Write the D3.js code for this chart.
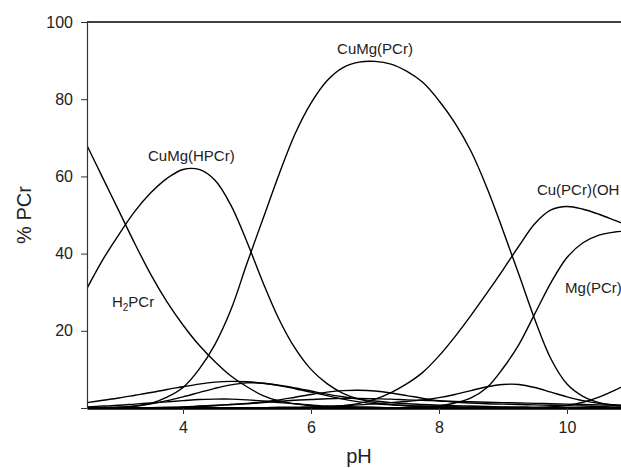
<!doctype html>
<html>
<head>
<meta charset="utf-8">
<script src="https://d3js.org/d3.v7.min.js"></script>
<style>
  body { margin: 0; background: #fff; }
  svg { display: block; font-family: "Liberation Sans", Arial, sans-serif; }
</style>
</head>
<body>
<svg width="621" height="468"></svg>
<script>
// pH grid (0.25 steps) and % PCr
var pH = [2.5, 2.75, 3, 3.25, 3.5, 3.75, 4, 4.25, 4.5, 4.75,
          5, 5.25, 5.5, 5.75, 6, 6.25, 6.5, 6.75, 7, 7.25,
          7.5, 7.75, 8, 8.25, 8.5, 8.75, 9, 9.25, 9.5, 9.75,
          10, 10.25, 10.5, 10.75, 11];

var H2PCr = [68, 59.5, 51, 42.5, 34.5, 27.5, 21.5, 16.3, 12, 8.3,
             5.5, 3.2, 1.8, 1.1, 0.6, 0.3, 0.2, 0.1, 0.1, 0,
             0, 0, 0, 0, 0, 0, 0, 0, 0, 0, 0, 0, 0, 0, 0];
var CuMgHPCr = [31, 38.5, 45, 51, 55.8, 59.5, 61.8, 61.8, 59, 52.5,
                43, 32.5, 23, 15.5, 10, 6.3, 3.8, 2.3, 1.4, 0.9,
                0.6, 0.4, 0.3, 0.2, 0.1, 0.1, 0, 0, 0, 0, 0, 0, 0, 0, 0];
var CuMgPCr = [0, 0.1, 0.2, 0.5, 1.2, 2.8, 5.3, 10, 16.5, 25.5,
               37.5, 49, 60.5, 71, 79, 84.8, 88.2, 89.6, 89.8, 89.1,
               87.2, 84.3, 79.6, 73.8, 66.5, 57, 46, 34.5, 22.8, 12.7,
               6.2, 3, 1.4, 0.7, 0.3];
var CuPCrOH = [0, 0, 0, 0, 0, 0, 0, 0, 0, 0,
               0, 0, 0, 0, 0, 0.2, 0.6, 1.2, 2.3, 4,
               6.3, 9.3, 13.5, 18.5, 24, 29.8, 35.8, 42, 47.8, 51.3,
               52.2, 51.5, 50.2, 48.6, 47];
var MgPCr = [0, 0, 0, 0, 0, 0, 0, 0, 0, 0,
             0, 0, 0, 0, 0, 0, 0, 0, 0, 0,
             0.1, 0.3, 0.6, 1.3, 2.6, 5.3, 10.3, 16.5, 24.5, 32.5,
             39, 42.8, 44.8, 45.6, 45.9];
// minor species near the baseline (unlabelled)
var minorA = [1.4, 2, 2.6, 3.3, 4, 4.8, 5.5, 6.2, 6.7, 6.9,
              6.8, 6.4, 5.8, 5, 4.1, 3.2, 2.3, 1.6, 1.1, 0.8,
              0.6, 0.5, 0.4, 0.3, 0.3, 0.2, 0.2, 0.1, 0.1, 0.1,
              0.1, 0, 0, 0, 0];
var minorB = [0, 0.1, 0.2, 0.5, 1.1, 1.9, 2.9, 4, 5.1, 6,
              6.5, 6.4, 5.9, 5.2, 4.4, 3.6, 2.9, 2.3, 1.8, 1.4,
              1.1, 0.9, 0.7, 0.6, 0.5, 0.4, 0.3, 0.3, 0.2, 0.2,
              0.1, 0.1, 0.1, 0.1, 0.1];
var minorC = [0.3, 0.5, 0.7, 1, 1.3, 1.6, 1.9, 2.2, 2.3, 2.3,
              2.1, 1.8, 1.4, 1.1, 0.8, 0.5, 0.4, 0.3, 0.2, 0.1,
              0.1, 0, 0, 0, 0, 0, 0, 0, 0, 0, 0, 0, 0, 0, 0];
var minorD = [0, 0, 0, 0, 0.1, 0.1, 0.2, 0.4, 0.6, 0.9,
              1.2, 1.6, 2.1, 2.8, 3.5, 4.1, 4.5, 4.6, 4.4, 3.9,
              3.2, 2.5, 1.9, 1.5, 1.3, 1.1, 1, 0.9, 0.8, 0.7,
              0.6, 0.5, 0.4, 0.3, 0.3];
var minorE = [0, 0, 0, 0, 0, 0, 0, 0, 0, 0,
              0.1, 0.1, 0.2, 0.2, 0.3, 0.4, 0.6, 0.8, 1.1, 1.4,
              1.7, 2.1, 2.7, 3.5, 4.5, 5.5, 6.1, 6.1, 5.3, 4.1,
              2.9, 1.9, 1.2, 0.8, 0.6];
var minorF = [0, 0, 0, 0, 0, 0, 0, 0, 0, 0,
              0, 0, 0, 0, 0, 0, 0, 0, 0, 0,
              0, 0, 0, 0, 0, 0, 0, 0, 0.1, 0.3,
              0.7, 1.5, 2.8, 4.6, 6.8];
var minorG = [0, 0, 0, 0, 0.1, 0.2, 0.3, 0.5, 0.7, 0.9,
              1.1, 1.4, 1.7, 2, 2.2, 2.4, 2.5, 2.5, 2.4, 2.3,
              2.1, 2, 1.8, 1.7, 1.6, 1.5, 1.4, 1.3, 1.2, 1.1,
              1, 0.9, 0.8, 0.7, 0.7];

var allSeries = [H2PCr, CuMgHPCr, CuMgPCr, CuPCrOH, MgPCr,
                 minorA, minorB, minorC, minorD, minorE, minorF, minorG];

var xTicks = [4, 6, 8, 10];
var yTicks = [0, 20, 40, 60, 80, 100];

// labels: [text, pH, %PCr, anchor]
var labels = [
  ["CuMg(HPCr)", 4.13, 63.9, "middle"],
  ["CuMg(PCr)", 7.0, 91.7, "middle"],
  ["Cu(PCr)(OH", 9.53, 55.3, "start"],
  ["Mg(PCr)", 9.97, 29.9, "start"]
];

var svg = d3.select("svg"),
    marginLeft = 87, marginTop = 22,
    width = 544,   // runs past the right edge, the figure is cropped
    height = 386;

var x = d3.scaleLinear().domain([2.5, 11]).range([0, width]),
    y = d3.scaleLinear().domain([0, 100]).range([height, 0]);

var g = svg.append("g").attr("transform", "translate(" + marginLeft + "," + marginTop + ")");

g.append("clipPath").attr("id", "plot")
  .append("rect").attr("x", 0).attr("y", -2).attr("width", width).attr("height", height + 2);

// top frame line
g.append("line")
  .attr("x1", 0).attr("x2", width).attr("y1", 0).attr("y2", 0)
  .attr("stroke", "#000").attr("stroke-width", 1.3);

var line = d3.line()
  .x(function(d, i) { return x(pH[i]); })
  .y(function(d) { return y(d); })
  .curve(d3.curveCatmullRom.alpha(0.5));

g.append("g").attr("clip-path", "url(#plot)")
  .selectAll("path")
  .data(allSeries)
  .enter().append("path")
  .attr("d", line)
  .attr("fill", "none")
  .attr("stroke", "#000")
  .attr("stroke-width", 1.4);

// axes
var yAxis = g.append("g")
  .call(d3.axisLeft(y).tickValues(yTicks).tickSize(6).tickPadding(8).tickSizeOuter(0)
    .tickFormat(function(d) { return d === 0 ? "" : d; }));
yAxis.select(".domain").attr("stroke", "#333").attr("stroke-width", 1.2);

var xAxis = g.append("g")
  .attr("transform", "translate(0," + height + ")")
  .call(d3.axisBottom(x).tickValues(xTicks).tickSize(6).tickPadding(8).tickSizeOuter(0));
xAxis.select(".domain").attr("stroke", "#000").attr("stroke-width", 2.5);

svg.selectAll(".tick text")
  .style("font-family", "Liberation Sans, Arial, sans-serif")
  .style("font-size", "16px")
  .attr("fill", "#222");
svg.selectAll(".tick line").attr("stroke", "#333");

// axis titles
svg.append("text")
  .attr("transform", "translate(31," + (marginTop + height / 2) + ")rotate(-90)")
  .attr("text-anchor", "middle")
  .style("font-size", "20px")
  .attr("fill", "#222")
  .text("% PCr");

svg.append("text")
  .attr("x", marginLeft + width / 2)
  .attr("y", 463)
  .attr("text-anchor", "middle")
  .style("font-size", "20px")
  .attr("fill", "#222")
  .text("pH");

// species labels
g.selectAll(".lab")
  .data(labels)
  .enter().append("text")
  .attr("class", "lab")
  .attr("x", function(d) { return x(d[1]); })
  .attr("y", function(d) { return y(d[2]); })
  .attr("text-anchor", function(d) { return d[3]; })
  .style("font-size", "15px")
  .attr("fill", "#222")
  .text(function(d) { return d[0]; });

var h2 = g.append("text")
  .attr("x", x(2.89))
  .attr("y", y(26.2))
  .style("font-size", "15px")
  .attr("fill", "#222");
h2.append("tspan").text("H");
h2.append("tspan").attr("dy", 4).style("font-size", "10px").text("2");
h2.append("tspan").attr("dy", -4).text("PCr");
</script>
</body>
</html>
